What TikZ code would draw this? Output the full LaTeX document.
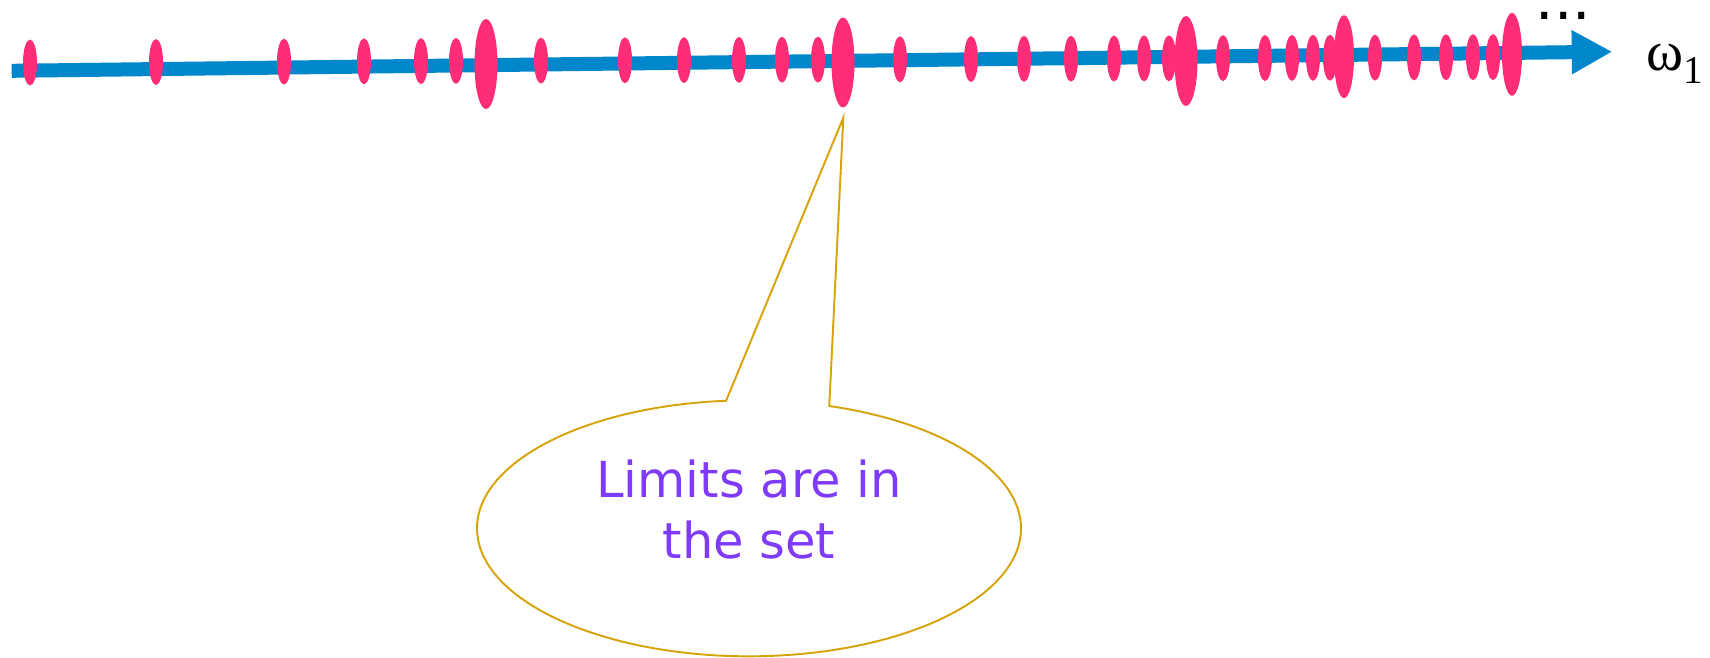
\documentclass[tikz,border=0pt]{standalone}
\usepackage{fontspec}
\usepackage{tikz}
\usetikzlibrary{arrows.meta, shapes.geometric, shapes.callouts}
\newfontfamily\calloutfont{DejaVu Sans}
\newfontfamily\labelfont{Liberation Serif}
\definecolor{axisB}{HTML}{0086CB}
\definecolor{ordP}{HTML}{FF2D78}
\definecolor{callG}{HTML}{D6A40A}
\definecolor{callV}{HTML}{7F3BF8}

\tikzset{
  axisline/.style={draw=axisB, line width=1.4mm, -{Triangle[length=4.06mm, width=4.13mm]}},
  ordpt/.style={ellipse, fill=ordP, inner sep=0pt, minimum width=1.4mm, minimum height=4.6mm},
  limpt/.style={ellipse, fill=ordP, inner sep=0pt, minimum width=2.3mm, minimum height=9mm},
  limpts/.style={ellipse, fill=ordP, inner sep=0pt, minimum width=2mm, minimum height=8.3mm},
  balloon/.style={ellipse callout, draw=callG, line width=0.55pt, text=callV,
    font=\calloutfont\fontsize{14.1}{17.3}\selectfont, align=center,
    minimum width=54.4mm, minimum height=25.6mm, inner sep=0pt, callout pointer arc=22}
}

\begin{document}
\begin{tikzpicture}[x=0.1mm, y=-0.1mm]
\useasboundingbox (0,0) rectangle (1710,657);
% the axis
\coordinate (start) at (11.7,70.8);
\coordinate (end) at (1612.3,51.7);
\draw[axisline] (start) -- (end);
% successor points
\node[ordpt] (p1) at (30,62.5) {};
\node[ordpt] (p2) at (156,62.0) {};
\node[ordpt] (p3) at (284,61.6) {};
\node[ordpt] (p4) at (364,61.3) {};
\node[ordpt] (p5) at (421,61.1) {};
\node[ordpt] (p6) at (456,60.9) {};
\node[ordpt] (p7) at (541,60.6) {};
\node[ordpt] (p8) at (625,60.3) {};
\node[ordpt] (p9) at (684,60.1) {};
\node[ordpt] (p10) at (739,59.9) {};
\node[ordpt] (p11) at (782,59.7) {};
\node[ordpt] (p12) at (818,59.6) {};
\node[ordpt] (p13) at (900,59.3) {};
\node[ordpt] (p14) at (971,59.0) {};
\node[ordpt] (p15) at (1024,58.8) {};
\node[ordpt] (p16) at (1071,58.7) {};
\node[ordpt] (p17) at (1114,58.5) {};
\node[ordpt] (p18) at (1144,58.4) {};
\node[ordpt] (p19) at (1169,58.3) {};
\node[ordpt] (p20) at (1223,58.1) {};
\node[ordpt] (p21) at (1265,58.0) {};
\node[ordpt] (p22) at (1292,57.9) {};
\node[ordpt] (p23) at (1313,57.8) {};
\node[ordpt] (p24) at (1330,57.7) {};
\node[ordpt] (p25) at (1375,57.6) {};
\node[ordpt] (p26) at (1414,57.4) {};
\node[ordpt] (p27) at (1446,57.3) {};
\node[ordpt] (p28) at (1473,57.2) {};
\node[ordpt] (p29) at (1493,57.1) {};
% limit points
\node[limpt] (l1) at (486,64) {};
\node[limpt] (l2) at (843,62.5) {};
\node[limpt] (l3) at (1186,61) {};
\node[limpts] (l4) at (1344,56.7) {};
\node[limpts] (l5) at (1512,54.3) {};
% labels
\node[inner sep=0pt, anchor=base west, font=\calloutfont\fontsize{16.5}{20}\selectfont] (more) at (1535,19.3) {...};
\node[inner sep=0pt, anchor=base west, font=\labelfont\fontsize{16}{18}\selectfont] (omega) at (1646,70) {ω\raisebox{-3.8pt}{\fontsize{11.2}{13}\selectfont 1}};
% callout
\coordinate (tip) at (843.3,117.7);
\node[balloon, callout absolute pointer={(tip)}] (note) at (749,528.3) {Limits are in\\the set\rule[-10.7pt]{0pt}{10.7pt}};
\end{tikzpicture}
\end{document}
